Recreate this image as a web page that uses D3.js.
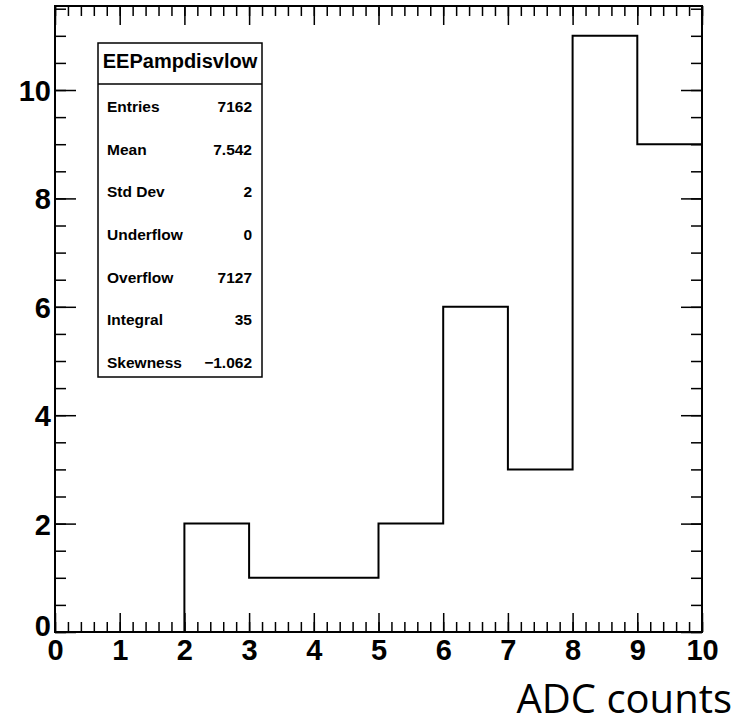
<!DOCTYPE html>
<html>
<head>
<meta charset="utf-8">
<script src="https://cdn.jsdelivr.net/npm/d3@7"></script>
<style>
  html, body { margin: 0; padding: 0; background: #fff; }
  svg { display: block; }
</style>
</head>
<body>
<svg id="chart" width="737" height="726"></svg>
<script>
// ---- data ----
const binEdges = [0, 1, 2, 3, 4, 5, 6, 7, 8, 9, 10];
const binCounts = [0, 0, 2, 1, 1, 2, 6, 3, 11, 9];
const xTickLabels = ["0", "1", "2", "3", "4", "5", "6", "7", "8", "9", "10"];
const yTickValues = [0, 2, 4, 6, 8, 10];
const statsTitle = "EEPampdisvlow";
const statsNames = ["Entries", "Mean", "Std Dev", "Underflow", "Overflow", "Integral", "Skewness"];
const statsValues = ["7162", "7.542", "2", "0", "7127", "35", "\u22121.062"];
const xTitle = "ADC counts";

(function () {
// ---- layout ----
const svg = d3.select("#chart");
const pL = 55, pR = 702, pT = 6, pB = 632;
const yMax = d3.max(binCounts) * 1.05;

const x = d3.scaleLinear().domain([0, 10]).range([pL, pR]);
const y = d3.scaleLinear().domain([0, yMax]).range([pB, pT]);

const fontB = "'Liberation Sans', Arial, Helvetica, sans-serif";

const xMinor = d3.range(0, 10.0001, 0.2).map(v => +v.toFixed(2));
const yMinor = d3.range(0, yMax, 0.5).map(v => +v.toFixed(2));

function styleAxis(g) {
  g.select(".domain").remove();
  g.selectAll(".tick line").attr("stroke", "#000").attr("stroke-width", 1.5);
}

// bottom axis
svg.append("g").attr("transform", `translate(0,${pB})`)
  .call(d3.axisBottom(x).tickValues(xMinor).tickSize(-10).tickFormat(""))
  .call(styleAxis);
svg.append("g").attr("transform", `translate(0,${pB})`)
  .call(d3.axisBottom(x).tickValues(binEdges).tickSize(-19).tickPadding(0)
        .tickFormat((d, i) => xTickLabels[i]))
  .call(styleAxis)
  .call(g => g.selectAll("text")
      .attr("font-family", fontB).attr("font-weight", "bold").attr("font-size", 29)
      .attr("fill", "#000").attr("dy", null).attr("y", 28));

// top axis (ticks only)
svg.append("g").attr("transform", `translate(0,${pT})`)
  .call(d3.axisTop(x).tickValues(xMinor).tickSize(-10).tickFormat(""))
  .call(styleAxis);
svg.append("g").attr("transform", `translate(0,${pT})`)
  .call(d3.axisTop(x).tickValues(binEdges).tickSize(-19).tickFormat(""))
  .call(styleAxis);

// left axis
svg.append("g").attr("transform", `translate(${pL},0)`)
  .call(d3.axisLeft(y).tickValues(yMinor).tickSize(-11).tickFormat(""))
  .call(styleAxis);
svg.append("g").attr("transform", `translate(${pL},0)`)
  .call(d3.axisLeft(y).tickValues(yTickValues).tickSize(-21).tickPadding(0).tickFormat(d3.format("d")))
  .call(styleAxis)
  .call(g => g.selectAll("text")
      .attr("font-family", fontB).attr("font-weight", "bold").attr("font-size", 29)
      .attr("fill", "#000").attr("x", -4)
      .attr("dy", d => d === 0 ? "0.12em" : "0.36em"));

// right axis (ticks only)
svg.append("g").attr("transform", `translate(${pR},0)`)
  .call(d3.axisRight(y).tickValues(yMinor).tickSize(-11).tickFormat(""))
  .call(styleAxis);
svg.append("g").attr("transform", `translate(${pR},0)`)
  .call(d3.axisRight(y).tickValues(yTickValues).tickSize(-21).tickFormat(""))
  .call(styleAxis);

// histogram outline
const pts = [];
binCounts.forEach((c, i) => {
  pts.push([x(binEdges[i]), y(c)]);
  pts.push([x(binEdges[i + 1]), y(c)]);
});
svg.append("path")
  .attr("d", d3.line()(pts))
  .attr("fill", "none").attr("stroke", "#000").attr("stroke-width", 2);

// frame
svg.append("rect")
  .attr("x", pL).attr("y", pT).attr("width", pR - pL).attr("height", pB - pT)
  .attr("fill", "none").attr("stroke", "#000").attr("stroke-width", 2);

// stats box
const bx = 98, by = 43, bw = 164, bh = 334, titleH = 41;
const box = svg.append("g");
box.append("rect").attr("x", bx).attr("y", by).attr("width", bw).attr("height", bh)
  .attr("fill", "#fff").attr("stroke", "#000").attr("stroke-width", 1.5);
box.append("line").attr("x1", bx).attr("x2", bx + bw).attr("y1", by + titleH).attr("y2", by + titleH)
  .attr("stroke", "#000").attr("stroke-width", 1.5);
box.append("text").attr("x", bx + bw / 2).attr("y", 68).attr("text-anchor", "middle")
  .attr("font-family", fontB).attr("font-weight", "bold").attr("font-size", 20).text(statsTitle);
const rowY = d3.scaleLinear().domain([0, statsNames.length - 1]).range([112, 368]);
statsNames.forEach((n, i) => {
  box.append("text").attr("x", 107).attr("y", rowY(i))
    .attr("font-family", fontB).attr("font-weight", "bold").attr("font-size", 15.5).text(n);
  box.append("text").attr("x", 252).attr("y", rowY(i)).attr("text-anchor", "end")
    .attr("font-family", fontB).attr("font-weight", "bold").attr("font-size", 15.5).text(statsValues[i]);
});

// x title
svg.append("text").attr("x", 732).attr("y", 713).attr("text-anchor", "end")
  .attr("font-family", "'Open Sans', 'Liberation Sans', sans-serif").attr("font-size", 40)
  .attr("fill", "#000").text(xTitle);
})();
</script>
</body>
</html>
